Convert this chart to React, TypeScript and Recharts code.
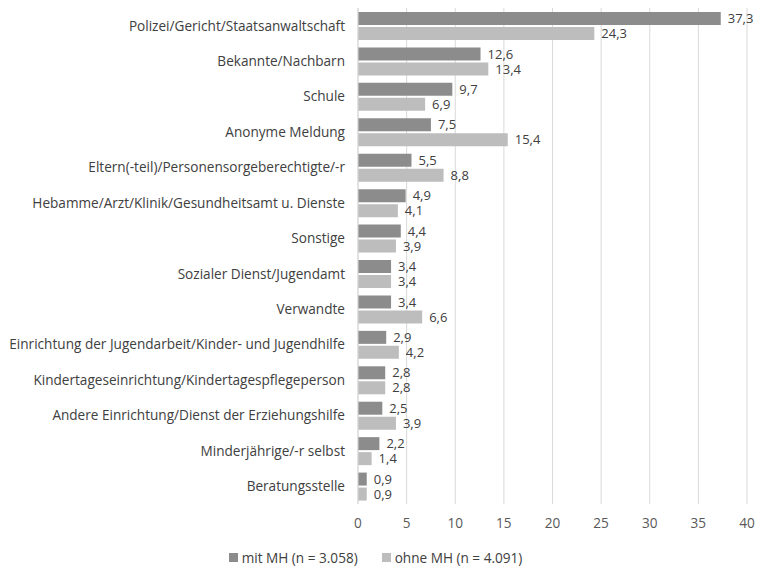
import { BarChart, Bar, XAxis, YAxis, CartesianGrid, Legend, LabelList } from 'recharts';

const categories = [
  'Polizei/Gericht/Staatsanwaltschaft',
  'Bekannte/Nachbarn',
  'Schule',
  'Anonyme Meldung',
  'Eltern(-teil)/Personensorgeberechtigte/-r',
  'Hebamme/Arzt/Klinik/Gesundheitsamt u. Dienste',
  'Sonstige',
  'Sozialer Dienst/Jugendamt',
  'Verwandte',
  'Einrichtung der Jugendarbeit/Kinder- und Jugendhilfe',
  'Kindertageseinrichtung/Kindertagespflegeperson',
  'Andere Einrichtung/Dienst der Erziehungshilfe',
  'Minderjährige/-r selbst',
  'Beratungsstelle',
];
const mitMH = [37.3, 12.6, 9.7, 7.5, 5.5, 4.9, 4.4, 3.4, 3.4, 2.9, 2.8, 2.5, 2.2, 0.9];
const ohneMH = [24.3, 13.4, 6.9, 15.4, 8.8, 4.1, 3.9, 3.4, 6.6, 4.2, 2.8, 3.9, 1.4, 0.9];
const xTicks = [0, 5, 10, 15, 20, 25, 30, 35, 40];
const seriesNames = ['mit MH (n = 3.058)', 'ohne MH (n = 4.091)'];
const colors = ['#8c8c8c', '#bdbdbd'];

const data = categories.map((c, i) => ({ c, mit: mitMH[i], ohne: ohneMH[i] }));

const font = '"Open Sans", sans-serif';
const fs = 13.6;
const fmt = (v: any) => String(v).replace('.', ',');

function LegendBox() {
  return (
    <div style={{ display: 'flex', justifyContent: 'center', gap: 24, fontSize: fs, fontFamily: font, color: '#404040', paddingLeft: 4 }}>
      {seriesNames.map((n, i) => (
        <span key={n} style={{ display: 'flex', alignItems: 'center' }}>
          <span style={{ width: 9, height: 9, background: colors[i], marginRight: 4, display: 'inline-block' }} />
          {n}
        </span>
      ))}
    </div>
  );
}

export default function App() {
  return (
    <div style={{ position: 'fixed', top: 0, left: 0, width: 760, height: 567, overflow: 'hidden', background: '#fff', fontFamily: font }}>
      <BarChart
        width={760}
        height={567}
        data={data}
        layout="vertical"
        margin={{ top: 8, right: 13, left: 0, bottom: 0 }}
        barSize={13}
        barGap={2}
      >
        <CartesianGrid horizontal={false} stroke="#d9d9d9" />
        <XAxis
          type="number"
          domain={[0, 40]}
          ticks={xTicks}
          axisLine={false}
          tickLine={false}
          tick={{ fill: '#595959', fontSize: fs, fontFamily: font }}
          tickMargin={8}
          height={44}
        />
        <YAxis
          type="category"
          dataKey="c"
          width={358}
          axisLine={{ stroke: '#d9d9d9' }}
          tickLine={false}
          tick={{ fill: '#404040', fontSize: fs, fontFamily: font }}
          tickMargin={7}
          interval={0}
        />
        <Legend verticalAlign="bottom" content={<LegendBox />} wrapperStyle={{ paddingBottom: 0 }} />
        <Bar dataKey="mit" name={seriesNames[0]} fill={colors[0]} isAnimationActive={false}>
          <LabelList dataKey="mit" position="right" offset={7} formatter={fmt} fill="#404040" fontSize={13} fontFamily={font} />
        </Bar>
        <Bar dataKey="ohne" name={seriesNames[1]} fill={colors[1]} isAnimationActive={false}>
          <LabelList dataKey="ohne" position="right" offset={7} formatter={fmt} fill="#404040" fontSize={13} fontFamily={font} />
        </Bar>
      </BarChart>
    </div>
  );
}
